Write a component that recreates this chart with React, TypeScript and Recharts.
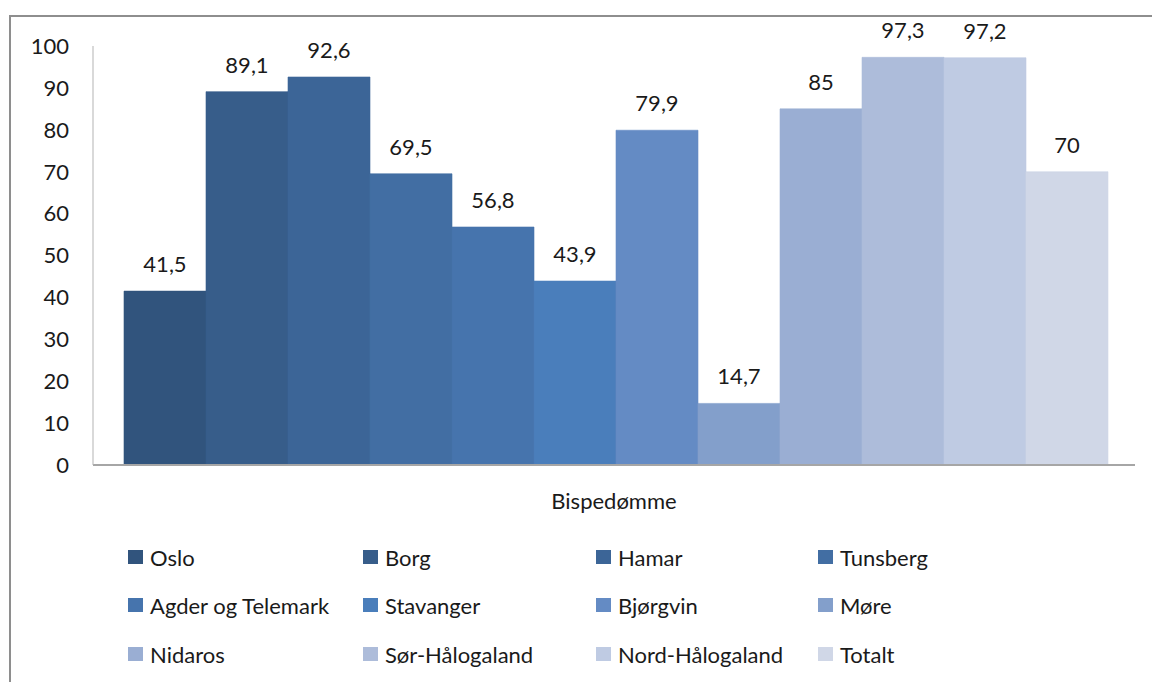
import { BarChart, Bar, XAxis, YAxis, LabelList } from 'recharts'

// bispedømmer, i samme rekkefølge som søylene
const dioceses = [
  'Oslo',
  'Borg',
  'Hamar',
  'Tunsberg',
  'Agder og Telemark',
  'Stavanger',
  'Bjørgvin',
  'Møre',
  'Nidaros',
  'Sør-Hålogaland',
  'Nord-Hålogaland',
  'Totalt',
]
const values = [41.5, 89.1, 92.6, 69.5, 56.8, 43.9, 79.9, 14.7, 85, 97.3, 97.2, 70]
const colors = [
  '#31547d',
  '#375d8a',
  '#3c6597',
  '#426ea3',
  '#4674ad',
  '#4a7ebb',
  '#648bc4',
  '#839fcb',
  '#9aaed3',
  '#adbcda',
  '#bfcbe3',
  '#d0d7e7',
]
const yTicks = [0, 10, 20, 30, 40, 50, 60, 70, 80, 90, 100]
const axisTitle = 'Bispedømme'

const FONT = 'Lato, "Open Sans", sans-serif'

const row: Record<string, string | number> = { name: axisTitle }
dioceses.forEach((d, i) => {
  row[d] = values[i]
})
const data = [row]

const fmt = (v: unknown) => String(v).replace('.', ',')

// legend kolonner (venstre kant av fargeboksen) og radmidter
const legendCols = [128, 363, 596, 818]
const legendRows = [557, 605, 654]

function LegendGrid() {
  return (
    <>
      {dioceses.map((d, i) => {
        const col = i % 4
        const r = Math.floor(i / 4)
        return (
          <div
            key={d}
            style={{
              position: 'absolute',
              left: legendCols[col],
              top: legendRows[r] - 14,
              height: 28,
              display: 'flex',
              alignItems: 'center',
              whiteSpace: 'nowrap',
              fontFamily: FONT,
              fontSize: 22,
              color: '#1a1a1a',
            }}
          >
            <span
              style={{
                display: 'inline-block',
                width: 15,
                height: 14,
                background: colors[i],
                marginRight: 7,
              }}
            />
            {d}
          </div>
        )
      })}
    </>
  )
}

export default function App() {
  return (
    <div
      style={{
        position: 'absolute',
        left: 0,
        top: 0,
        width: 1152,
        height: 682,
        overflow: 'hidden',
        background: '#fff',
      }}
    >
      <div
        style={{
          position: 'absolute',
          left: 9,
          top: 15,
          width: 1300,
          height: 800,
          border: '2px solid #8e8e8e',
        }}
      />
      <div style={{ position: 'absolute', left: 0, top: 0 }}>
        <BarChart
          width={1152}
          height={682}
          data={data}
          margin={{ top: 46, right: 17, left: 0, bottom: 157 }}
          barCategoryGap={31}
          barGap={0}
        >
          <XAxis
            dataKey="name"
            tick={false}
            tickLine={false}
            axisLine={{ stroke: '#a6a6a6', strokeWidth: 2 }}
            height={60}
            label={{
              value: axisTitle,
              position: 'insideBottom',
              offset: 16,
              fill: '#1a1a1a',
              fontSize: 22,
              fontFamily: FONT,
            }}
          />
          <YAxis
            domain={[0, 100]}
            ticks={yTicks}
            interval={0}
            width={93}
            tickLine={false}
            tickSize={0}
            tickMargin={24}
            axisLine={{ stroke: '#b3b3b3', strokeWidth: 1 }}
            tick={{ fontSize: 22, fill: '#1a1a1a', fontFamily: FONT }}
          />
          {dioceses.map((d, i) => (
            <Bar
              key={d}
              dataKey={d}
              fill={colors[i]}
              stroke={colors[i]}
              strokeWidth={0.6}
              isAnimationActive={false}
            >
              <LabelList
                dataKey={d}
                position="top"
                offset={19}
                formatter={fmt}
                fill="#1a1a1a"
                fontSize={22}
                fontFamily={FONT}
              />
            </Bar>
          ))}
        </BarChart>
      </div>
      <LegendGrid />
    </div>
  )
}
